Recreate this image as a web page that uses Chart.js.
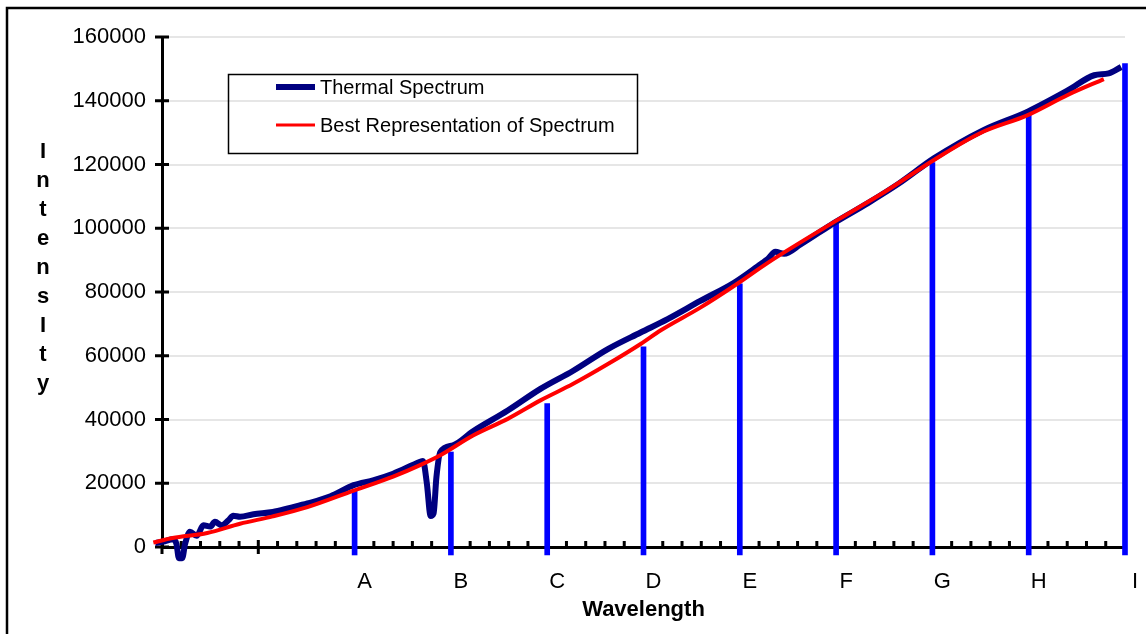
<!doctype html>
<html>
<head>
  <title>Thermal spectrum</title>
  <script src="https://cdn.jsdelivr.net/npm/chart.js@4.4.0/dist/chart.umd.min.js"></script>
  <style>
    body { margin: 0; background: #fff; }
  </style>
</head>
<body>
  <canvas id="canvas" width="1146" height="634"></canvas>
  <script>
    // measured spectrum (wavelength axis runs 0..100)
    var thermalX = [-0.7, 0.3, 1.1, 1.5, 1.75, 2.1, 2.4, 2.9, 3.6, 4.3, 5.0, 5.5, 6.2, 6.9, 7.4, 8.1, 9.5, 11.5, 13.3, 15.1,
                    17.5, 19.9, 22.0, 24.0, 26.8, 27.1, 27.5, 27.9, 28.2, 28.5, 28.9, 30.2, 32.3, 35.9, 39.3, 42.7, 46.3, 49.7,
                    52.5, 55.9, 59.4, 62.2, 62.9, 63.7, 64.6, 66.3, 69.8, 73.3, 76.5, 80.2, 85.3, 89.9, 94.1, 96.8, 98.3, 99.6];
    var thermalY = [1200, 1800, 2400, 1000, -3500, -3500, 1000, 4800, 3500, 6800, 6400, 7900, 6800, 8400, 9800, 9500, 10300, 11000, 12300, 13650,
                    15900, 19400, 21000, 23000, 26700, 27000, 20000, 9700, 10500, 22000, 29800, 31900, 36300, 42800, 49600, 55300, 62100, 67300,
                    71500, 77200, 82900, 88800, 90300, 92600, 92000, 94900, 101700, 107900, 114000, 122000, 130800, 136600, 143300, 148000, 148600, 150600];

    // smooth fit
    var fitX = [-0.9, 1.1, 4.7, 8.1, 11.5, 15.1, 19.9, 24.0, 26.8, 28.9, 32.3, 35.9, 39.3, 42.7, 46.3, 49.7, 51.8, 55.9,
                59.9, 62.9, 70.2, 75.2, 80.2, 85.0, 89.9, 94.1, 97.8];
    var fitY = [1400, 2800, 4400, 7300, 9600, 12500, 17700, 22100, 25700, 28800, 35000, 40200, 46000, 51200, 57400, 63700, 68000, 75100,
                82900, 89150, 102700, 111700, 121500, 129900, 135500, 141900, 146800];

    // sample bands
    var bandLabels = ['A', 'B', 'C', 'D', 'E', 'F', 'G', 'H', 'I'];
    var bandX = [20, 30, 40, 50, 60, 70, 80, 90, 100];
    var bandY = [17800, 29800, 45000, 62800, 82600, 102400, 120600, 137200, 151700];

    var yTicks = [0, 20000, 40000, 60000, 80000, 100000, 120000, 140000, 160000];
    var yTitle = ['I', 'n', 't', 'e', 'n', 's', 'I', 't', 'y'];
    var xTitle = 'Wavelength';

    var barFoot = -2500;
    var FONT = '"Liberation Sans", Arial, sans-serif';
    Chart.defaults.color = '#000';
    Chart.defaults.font.family = FONT;

    function pts(xs, ys) {
      return xs.map(function (x, i) { return { x: x, y: ys[i] }; });
    }

    var decor = {
      id: 'decor',
      beforeDraw: function (chart) {
        var ctx = chart.ctx;
        ctx.save();
        ctx.fillStyle = '#fff';
        ctx.fillRect(0, 0, chart.width, chart.height);
        ctx.strokeStyle = '#000';
        ctx.lineWidth = 2.5;
        ctx.strokeRect(7, 8, chart.width + 20, chart.height + 20);
        ctx.restore();
      },
      beforeDatasetsDraw: function (chart) {
        var ctx = chart.ctx, xs = chart.scales.x, ys = chart.scales.y;
        var a = chart.chartArea;
        ctx.save();
        ctx.strokeStyle = '#000';
        ctx.lineWidth = 3;
        ctx.beginPath();
        // y ticks cross the axis
        yTicks.forEach(function (v) {
          var py = ys.getPixelForValue(v);
          ctx.moveTo(a.left - 7, py);
          ctx.lineTo(a.left + 7, py);
        });
        // x ticks: major every 10, minor every 2
        for (var v = 0; v <= 100; v += 2) {
          var px = xs.getPixelForValue(v);
          if (v % 10 === 0) {
            ctx.moveTo(px, a.bottom - 7);
            ctx.lineTo(px, a.bottom + 7);
          } else {
            ctx.moveTo(px, a.bottom - 6);
            ctx.lineTo(px, a.bottom);
          }
        }
        ctx.stroke();
        ctx.restore();
      },
      afterDraw: function (chart) {
        var ctx = chart.ctx;
        ctx.save();
        // vertical stacked axis title
        ctx.fillStyle = '#000';
        ctx.font = 'bold 22px ' + FONT;
        ctx.textAlign = 'center';
        ctx.textBaseline = 'middle';
        yTitle.forEach(function (ch, i) {
          ctx.fillText(ch, 43, 152 + i * 29);
        });
        // legend box
        ctx.lineWidth = 1.5;
        ctx.strokeStyle = '#000';
        ctx.strokeRect(228.5, 74.5, 409, 79);
        ctx.font = '20px ' + FONT;
        ctx.textAlign = 'left';
        var items = chart.data.datasets.filter(function (d) { return d.type === 'line'; })
          .sort(function (p, q) { return q.order - p.order; });
        items.forEach(function (d, i) {
          var y = 87 + i * 38;
          ctx.strokeStyle = d.borderColor;
          ctx.lineWidth = d.legendWidth;
          ctx.beginPath();
          ctx.moveTo(276, y);
          ctx.lineTo(315, y);
          ctx.stroke();
          ctx.fillText(d.label, 320, y + 1);
        });
        ctx.restore();
      }
    };

    var chart = new Chart('canvas', {
      type: 'line',
      data: {
        datasets: [
          {
            type: 'line',
            label: 'Best Representation of Spectrum',
            data: pts(fitX, fitY),
            borderColor: '#ff0000',
            borderWidth: 4,
            legendWidth: 3,
            pointRadius: 0,
            cubicInterpolationMode: 'monotone',
            clip: false,
            order: 0
          },
          {
            type: 'line',
            label: 'Thermal Spectrum',
            data: pts(thermalX, thermalY),
            borderColor: '#000080',
            borderWidth: 6,
            legendWidth: 6,
            borderJoinStyle: 'round',
            pointRadius: 0,
            cubicInterpolationMode: 'monotone',
            clip: false,
            order: 1
          },
          {
            type: 'bar',
            label: 'bands',
            data: bandX.map(function (x, i) { return { x: x, y: [barFoot, bandY[i]] }; }),
            backgroundColor: '#0000ff',
            barThickness: 5,
            clip: false,
            order: 2
          }
        ]
      },
      options: {
        responsive: false,
        animation: false,
        layout: { padding: { left: 0, top: 37, right: 21, bottom: 0 } },
        plugins: { legend: { display: false }, tooltip: { enabled: false } },
        scales: {
          x: {
            type: 'linear',
            min: 0,
            max: 100,
            offset: false,
            grid: { display: false, drawTicks: false },
            border: { display: true, color: '#000', width: 3 },
            afterBuildTicks: function (s) {
              s.ticks = bandX.map(function (v) { return { value: v }; });
            },
            afterFit: function (s) {
              s.height = 87;
              s.paddingLeft = 0;
              s.paddingRight = 0;
            },
            ticks: {
              autoSkip: false,
              maxRotation: 0,
              padding: 22,
              labelOffset: 10,
              font: { size: 22 },
              callback: function (v, i) { return bandLabels[i]; }
            },
            title: {
              display: true,
              text: xTitle,
              font: { size: 22, weight: 'bold' },
              padding: { top: 0, bottom: 11 }
            }
          },
          y: {
            min: 0,
            max: 160000,
            afterBuildTicks: function (s) {
              s.ticks = yTicks.map(function (v) { return { value: v }; });
            },
            afterFit: function (s) { s.width = 162; },
            grid: { color: '#e6e6e6', lineWidth: 2, drawTicks: false },
            border: { display: true, color: '#000', width: 3 },
            ticks: {
              padding: 16,
              font: { size: 22 },
              callback: function (v) { return String(v); }
            }
          }
        }
      },
      plugins: [decor]
    });
  </script>
</body>
</html>
